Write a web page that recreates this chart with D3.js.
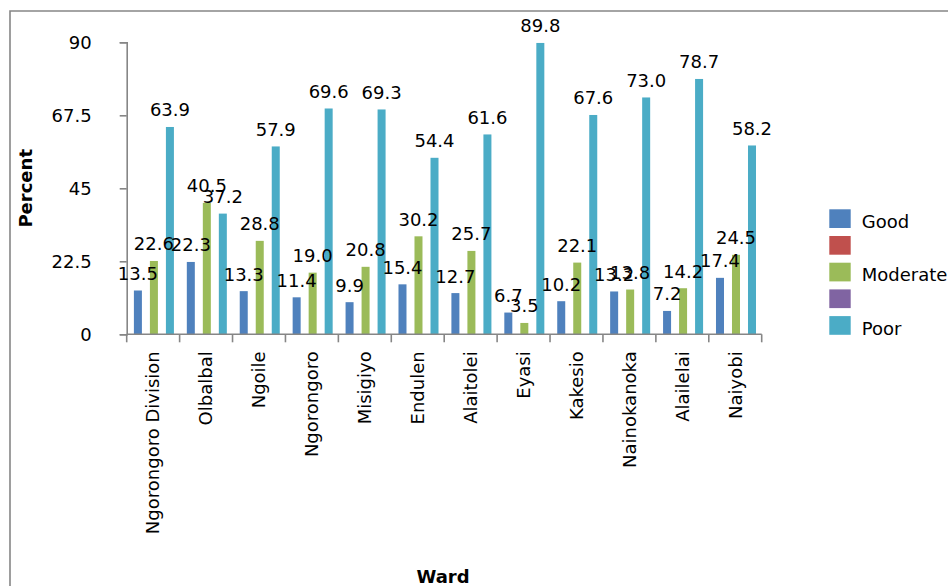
<!DOCTYPE html>
<html>
<head>
<meta charset="utf-8">
<script src="https://cdn.jsdelivr.net/npm/d3@7"></script>
<style>
  html, body { margin: 0; padding: 0; background: #fff; }
  svg { display: block; font-family: "DejaVu Sans", sans-serif; }
</style>
</head>
<body>
<svg id="chart" width="948" height="586"></svg>
<script>
// Wards along the x axis
const wards = ["Ngorongoro Division", "Olbalbal", "Ngoile", "Ngorongoro", "Misigiyo",
  "Endulen", "Alaitolei", "Eyasi", "Kakesio", "Nainokanoka", "Alailelai", "Naiyobi"];

// Percent of respondents per rating, one value per ward
const good     = [13.5, 22.3, 13.3, 11.4, 9.9, 15.4, 12.7, 6.7, 10.2, 13.2, 7.2, 17.4];
const blankA   = [null, null, null, null, null, null, null, null, null, null, null, null];
const moderate = [22.6, 40.5, 28.8, 19.0, 20.8, 30.2, 25.7, 3.5, 22.1, 13.8, 14.2, 24.5];
const blankB   = [null, null, null, null, null, null, null, null, null, null, null, null];
const poor     = [63.9, 37.2, 57.9, 69.6, 69.3, 54.4, 61.6, 89.8, 67.6, 73.0, 78.7, 58.2];

// Legend names (two series are unnamed and empty)
const seriesNames = ["Good", "", "Moderate", "", "Poor"];
const seriesColors = ["#4F81BD", "#C0504D", "#9BBB59", "#8064A2", "#4BACC6"];
const yTicks = [0, 22.5, 45, 67.5, 90];

const series = [good, blankA, moderate, blankB, poor].map((values, i) => ({
  key: "s" + i, name: seriesNames[i], color: seriesColors[i], values
}));

const svg = d3.select("#chart");
const axisColor = "#868686";
const fontSize = 18;

// Outer chart frame (extends past the right and bottom edges)
svg.append("path")
  .attr("d", "M10,586 V11 H948")
  .attr("fill", "none")
  .attr("stroke", axisColor)
  .attr("stroke-width", 1.6);

const plotLeft = 126.7, plotRight = 761.7, plotTop = 42.3, plotBottom = 334.3;

const x0 = d3.scaleBand().domain(wards).range([plotLeft, plotRight]).padding(0);
const x1 = d3.scaleBand().domain(series.map(s => s.key)).range([7.2, x0.bandwidth() - 5.7]).padding(0);
const y = d3.scaleLinear().domain([0, 90]).range([plotBottom, plotTop]);

// Bars
const groups = svg.append("g").selectAll("g")
  .data(series)
  .join("g")
  .attr("fill", d => d.color);

groups.selectAll("rect")
  .data(s => s.values.map((v, i) => ({ ward: wards[i], v, key: s.key })).filter(d => d.v != null))
  .join("rect")
  .attr("x", d => x0(d.ward) + x1(d.key))
  .attr("y", d => y(d.v))
  .attr("width", x1.bandwidth())
  .attr("height", d => y(0) - y(d.v));

// Y axis
const yAxis = svg.append("g")
  .attr("transform", `translate(${plotLeft},0)`)
  .call(d3.axisLeft(y).tickValues(yTicks).tickSize(7).tickPadding(28)
    .tickFormat(d => d3.format("")(d)));
yAxis.select(".domain").attr("stroke", axisColor).attr("stroke-width", 1.6);
yAxis.selectAll(".tick line").attr("stroke", axisColor).attr("stroke-width", 1.6);
yAxis.selectAll(".tick text")
  .attr("font-size", fontSize)
  .attr("font-family", "DejaVu Sans, sans-serif")
  .attr("fill", "#000");

// X axis: labels centred on each ward, ticks on ward boundaries
const xAxis = svg.append("g")
  .attr("transform", `translate(0,${plotBottom})`)
  .call(d3.axisBottom(x0).tickSize(0).tickPadding(0));
xAxis.select(".domain").remove();
xAxis.selectAll(".tick text")
  .attr("font-size", fontSize)
  .attr("font-family", "DejaVu Sans, sans-serif")
  .attr("fill", "#000")
  .attr("text-anchor", "end")
  .attr("transform", "translate(0,17) rotate(-90)")
  .attr("x", 0)
  .attr("y", 0)
  .attr("dy", "0.35em");

const boundaries = wards.map(w => x0(w)).concat([plotRight]);
svg.append("line")
  .attr("x1", plotLeft).attr("x2", plotRight)
  .attr("y1", plotBottom).attr("y2", plotBottom)
  .attr("stroke", axisColor).attr("stroke-width", 1.6);
svg.append("g").selectAll("line")
  .data(boundaries)
  .join("line")
  .attr("x1", d => d).attr("x2", d => d)
  .attr("y1", plotBottom).attr("y2", plotBottom + 8)
  .attr("stroke", axisColor).attr("stroke-width", 1.6);

// Value labels above bars
const labelData = [];
series.forEach(s => s.values.forEach((v, i) => {
  if (v != null) labelData.push({ ward: wards[i], key: s.key, v });
}));
svg.append("g").selectAll("text")
  .data(labelData)
  .join("text")
  .attr("x", d => x0(d.ward) + x1(d.key) + x1.bandwidth() / 2)
  .attr("y", d => y(d.v) - 10.5)
  .attr("text-anchor", "middle")
  .attr("font-size", fontSize)
  .attr("fill", "#000")
  .text(d => d3.format(".1f")(d.v));

// Axis titles
svg.append("text")
  .attr("transform", `translate(31.5,${(plotTop + plotBottom) / 2}) rotate(-90)`)
  .attr("text-anchor", "middle")
  .attr("font-size", fontSize)
  .attr("font-weight", "bold")
  .text("Percent");

svg.append("text")
  .attr("x", 443)
  .attr("y", 583)
  .attr("text-anchor", "middle")
  .attr("font-size", fontSize)
  .attr("font-weight", "bold")
  .text("Ward");

// Legend
const legend = svg.append("g").attr("transform", "translate(829.3,209.3)");
const items = legend.selectAll("g")
  .data(series)
  .join("g")
  .attr("transform", (d, i) => `translate(0,${i * 26.7})`);
items.append("rect")
  .attr("width", 21.4)
  .attr("height", 18.7)
  .attr("fill", d => d.color);
items.append("text")
  .attr("x", 32.4)
  .attr("y", 18.5)
  .attr("font-size", fontSize)
  .attr("fill", "#000")
  .text(d => d.name);
</script>
</body>
</html>
